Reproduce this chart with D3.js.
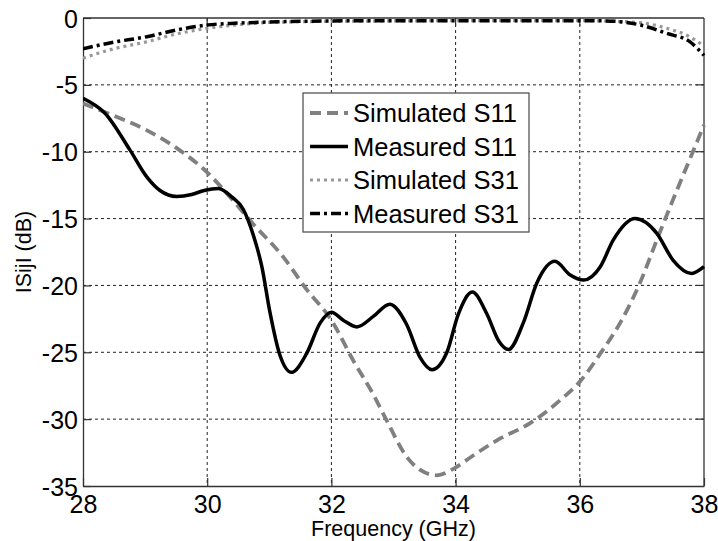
<!DOCTYPE html>
<html>
<head>
<meta charset="utf-8">
<script src="https://cdn.jsdelivr.net/npm/d3@7"></script>
<style>
  html, body { margin: 0; padding: 0; background: #fff; }
  svg { display: block; font-family: "Liberation Sans", Arial, sans-serif; }
</style>
</head>
<body>
<svg id="chart" width="718" height="541"></svg>
<script>
// ---------- DATA ----------
const xTicks = [28, 30, 32, 34, 36, 38];
const yTicks = [0, -5, -10, -15, -20, -25, -30, -35];

const freqSimS11 = [28.0, 28.49, 29.03, 29.56, 29.99, 30.37, 30.74, 31.23, 31.6, 32.0, 32.35, 32.68, 32.89, 33.21, 33.43, 33.7, 33.97, 34.29, 34.66, 35.2, 35.68, 36.0, 36.33, 36.65, 36.97, 37.24, 37.5, 37.75, 38.0];
const simS11 = [-6.4, -7.3, -8.4, -9.9, -11.5, -13.4, -15.4, -17.9, -20.3, -22.6, -25.6, -28.2, -30.1, -32.8, -33.8, -34.2, -33.7, -32.7, -31.6, -30.3, -28.6, -27.2, -25.1, -22.8, -19.8, -16.6, -13.6, -10.8, -8.0];

const freqMeasS11 = [28.0, 28.35, 28.76, 29.03, 29.24, 29.51, 29.75, 29.95, 30.18, 30.4, 30.58, 30.74, 30.88, 31.01, 31.17, 31.36, 31.6, 31.82, 32.0, 32.19, 32.41, 32.68, 32.94, 33.21, 33.43, 33.62, 33.86, 34.04, 34.27, 34.5, 34.7, 34.85, 35.09, 35.31, 35.6, 35.84, 36.06, 36.33, 36.54, 36.89, 37.24, 37.5, 37.8, 38.0];
const measS11 = [-6.0, -7.1, -9.9, -11.9, -12.9, -13.35, -13.2, -12.9, -12.75, -13.4, -14.3, -16.2, -18.6, -22.0, -25.2, -26.5, -25.1, -22.8, -22.0, -22.6, -23.1, -22.3, -21.4, -22.9, -25.4, -26.3, -25.0, -22.2, -20.5, -22.1, -24.2, -24.8, -22.8, -19.8, -18.2, -19.2, -19.6, -18.6, -16.6, -15.0, -16.1, -18.1, -19.1, -18.6];

const freqSimS31 = [28, 28.5, 29.03, 29.5, 30, 30.5, 31, 32, 33, 34, 35, 36, 36.5, 36.97, 37.4, 37.77, 38];
const simS31 = [-3.0, -2.3, -1.77, -1.2, -0.77, -0.5, -0.33, -0.25, -0.22, -0.2, -0.2, -0.2, -0.24, -0.35, -0.77, -1.4, -2.1];

const freqMeasS31 = [28, 28.5, 29.03, 29.5, 30, 30.5, 31.17, 32, 33, 34, 35, 36, 36.43, 36.97, 37.4, 37.77, 38];
const measS31 = [-2.3, -1.8, -1.4, -0.9, -0.52, -0.38, -0.28, -0.22, -0.2, -0.2, -0.2, -0.2, -0.22, -0.52, -1.15, -1.77, -2.8];

const seriesNames = ["Simulated S11", "Measured S11", "Simulated S31", "Measured S31"];

// ---------- LAYOUT ----------
const svg = d3.select("#chart");
const L = 83, T = 18, R = 704, B = 486;
const x = d3.scaleLinear().domain([28, 38]).range([L, R]);
const y = d3.scaleLinear().domain([-35, 0]).range([B, T]);

const styles = [
  { color: "#808080", width: 3.8, dash: "11,6" },
  { color: "#000000", width: 3.5, dash: null },
  { color: "#999999", width: 3.2, dash: "3,4" },
  { color: "#000000", width: 3.5, dash: "10,4,3,4" }
];
const series = [
  { f: freqSimS11, v: simS11 },
  { f: freqMeasS11, v: measS11 },
  { f: freqSimS31, v: simS31 },
  { f: freqMeasS31, v: measS31 }
];

// grid
const grid = svg.append("g");
xTicks.slice(1, -1).forEach(t => {
  grid.append("line").attr("x1", x(t)).attr("x2", x(t)).attr("y1", T).attr("y2", B)
    .attr("stroke", "#222").attr("stroke-width", 1).attr("stroke-dasharray", "3,3");
});
yTicks.slice(1, -1).forEach(t => {
  grid.append("line").attr("x1", L).attr("x2", R).attr("y1", y(t)).attr("y2", y(t))
    .attr("stroke", "#222").attr("stroke-width", 1).attr("stroke-dasharray", "3,3");
});

// axes (inward ticks)
const xAxis = svg.append("g").attr("transform", `translate(0,${B})`)
  .call(d3.axisBottom(x).tickValues(xTicks).tickSizeInner(-8).tickSizeOuter(0).tickPadding(9).tickFormat(d => String(d)));
const yAxis = svg.append("g").attr("transform", `translate(${L},0)`)
  .call(d3.axisLeft(y).tickValues(yTicks).tickSizeInner(-8).tickSizeOuter(0).tickPadding(5).tickFormat(d => String(d)));
[xAxis, yAxis].forEach(a => {
  a.select(".domain").attr("stroke", "#333").attr("stroke-width", 1.3);
  a.selectAll(".tick line").attr("stroke", "#333").attr("stroke-width", 1.2);
  a.selectAll("text").attr("font-size", 25).attr("fill", "#000")
    .attr("font-family", "'Liberation Sans', Arial, sans-serif");
});
xAxis.selectAll("text").attr("dy", "0.71em");
yAxis.selectAll("text").attr("dy", "0.36em");
// top and right ticks
xTicks.slice(1, -1).forEach(t => {
  svg.append("line").attr("x1", x(t)).attr("x2", x(t)).attr("y1", T).attr("y2", T + 8).attr("stroke", "#333").attr("stroke-width", 1.2);
});
yTicks.slice(1, -1).forEach(t => {
  svg.append("line").attr("x1", R).attr("x2", R - 8).attr("y1", y(t)).attr("y2", y(t)).attr("stroke", "#333").attr("stroke-width", 1.2);
});
// frame top/right
svg.append("line").attr("x1", L).attr("x2", R).attr("y1", T).attr("y2", T).attr("stroke", "#333").attr("stroke-width", 1.3);
svg.append("line").attr("x1", R).attr("x2", R).attr("y1", T).attr("y2", B).attr("stroke", "#333").attr("stroke-width", 1.3);

// lines
svg.append("clipPath").attr("id", "clip").append("rect")
  .attr("x", L).attr("y", T - 2).attr("width", R - L + 2).attr("height", B - T + 4);
const lineGen = d3.line().curve(d3.curveMonotoneX);
const order = [0, 2, 3, 1];
order.forEach(i => {
  const s = series[i], st = styles[i];
  const pts = s.f.map((f, k) => [x(f), y(s.v[k])]);
  svg.append("path").attr("d", lineGen(pts)).attr("fill", "none")
    .attr("stroke", st.color).attr("stroke-width", st.width)
    .attr("stroke-dasharray", st.dash).attr("stroke-linejoin", "round")
    .attr("clip-path", "url(#clip)");
});

// legend
const lg = svg.append("g");
lg.append("rect").attr("x", 303).attr("y", 93).attr("width", 226).attr("height", 139)
  .attr("fill", "#fff").attr("stroke", "#555").attr("stroke-width", 1.3);
const rowsY = [113, 146.5, 180, 213.5];
seriesNames.forEach((name, i) => {
  const st = styles[i];
  lg.append("line").attr("x1", 310).attr("x2", 348).attr("y1", rowsY[i]).attr("y2", rowsY[i])
    .attr("stroke", st.color).attr("stroke-width", st.width).attr("stroke-dasharray", st.dash);
  lg.append("text").attr("x", 353).attr("y", rowsY[i]).attr("dy", "0.36em")
    .attr("font-size", 25.5).attr("fill", "#000").text(name);
});

// axis labels
svg.append("text").attr("x", (L + R) / 2).attr("y", 536).attr("text-anchor", "middle")
  .attr("font-size", 21.5).attr("fill", "#000").text("Frequency (GHz)");
svg.append("text").attr("transform", `translate(31,${(T + B) / 2}) rotate(-90)`).attr("text-anchor", "middle")
  .attr("font-size", 21.5).attr("fill", "#000").text("ISijI (dB)");
</script>
</body>
</html>
